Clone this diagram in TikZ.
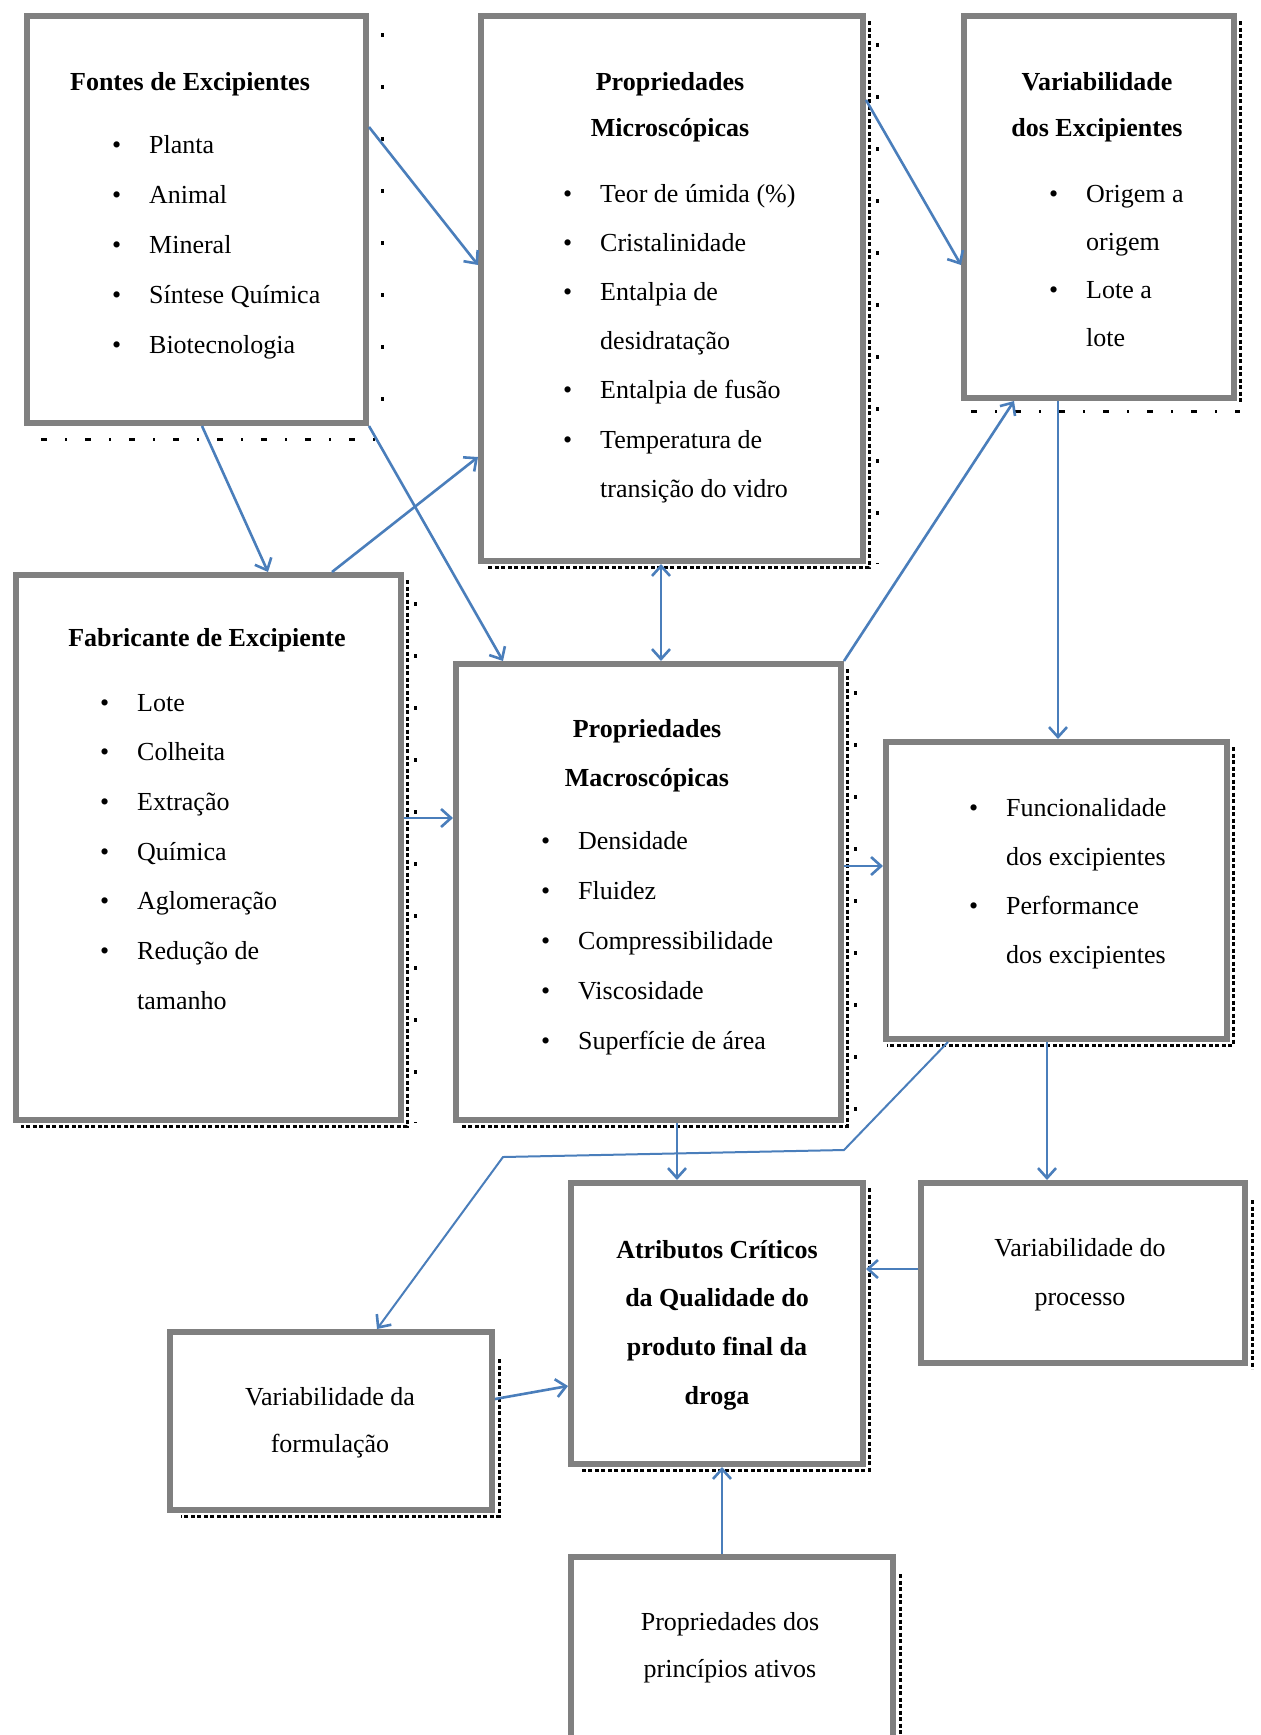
\documentclass[tikz,border=0pt]{standalone}
\usepackage{fontspec}
\setmainfont{Liberation Serif}
\usetikzlibrary{arrows.meta}
\definecolor{bx}{HTML}{808080}
\definecolor{ar}{HTML}{4A7EBB}
\newcommand\fs[1]{\fontsize{26}{#1}\selectfont}
\newcommand\bu[1]{\makebox[37pt][l]{\textbullet}#1}
\newcommand\co[1]{\hspace*{37pt}#1}
\newcommand\bx[5]{\node[box, minimum width={#4-#2-6}, minimum height={#5-#3-6}] (#1) at ({(#2+#4)/2},{(#3+#5)/2}) {};}
\tikzset{
 box/.style={draw=bx, line width=6pt, fill=white, inner sep=0pt, outer sep=3pt},
 con/.style={draw=ar, line width=2.6pt, -{Straight Barb[length=10pt,width=18pt,line width=2.6pt]}},
 shd/.style={draw=black, line width=3pt, dash pattern=on 4pt off 2.5pt},
 shs/.style={draw=black, line width=3pt, dash pattern=on 4pt off 48pt},
 shb/.style={draw=black, line width=3pt, dash pattern=on 6pt off 18pt on 2pt off 18pt},
 txt/.style={inner sep=0pt, anchor=base west},
 ttl/.style={inner sep=0pt, anchor=base},
}
\begin{document}
\begin{tikzpicture}[x=1pt,y=-1pt]
\useasboundingbox[fill=white] (0,0) rectangle (1261,1735);
% boxes
\bx{F}{24}{13}{369}{426}
\bx{Mi}{478}{13}{866}{564}
\bx{Va}{961}{13}{1237}{401}
\bx{Fa}{13}{572}{404}{1123}
\bx{Ma}{453}{661}{844}{1123}
\bx{Fu}{883}{739}{1230}{1042}
\bx{AC}{568}{1180}{866}{1467}
\bx{VP}{918}{1180}{1248}{1366}
\bx{VF}{167}{1329}{495}{1513}
\bx{PP}{568}{1554}{896}{1775}
% shadows
\draw[shs] ([shift={(13pt,-20pt)}]F.north east) -- ([shift={(13pt,0pt)}]F.south east);
\draw[shb] ([shift={(17pt,-13pt)}]F.south west) -- ([shift={(13pt,-13pt)}]F.south east);
\draw[shd] ([shift={(3pt,-8pt)}]Mi.north east) -- ([shift={(3pt,-3pt)}]Mi.south east) -- ([shift={(8pt,-3pt)}]Mi.south west);
\draw[shs] ([shift={(11pt,-30pt)}]Mi.north east) -- ([shift={(11pt,0pt)}]Mi.south east);
\draw[shd] ([shift={(3pt,-8pt)}]Va.north east) -- ([shift={(3pt,-3pt)}]Va.south east);
\draw[shb] ([shift={(10pt,-10pt)}]Va.south west) -- ([shift={(3pt,-10pt)}]Va.south east);
\draw[shd] ([shift={(3pt,-8pt)}]Fa.north east) -- ([shift={(3pt,-3pt)}]Fa.south east) -- ([shift={(8pt,-3pt)}]Fa.south west);
\draw[shs] ([shift={(11pt,-30pt)}]Fa.north east) -- ([shift={(11pt,0pt)}]Fa.south east);
\draw[shd] ([shift={(3pt,-8pt)}]Ma.north east) -- ([shift={(3pt,-3pt)}]Ma.south east) -- ([shift={(8pt,-3pt)}]Ma.south west);
\draw[shs] ([shift={(11pt,-30pt)}]Ma.north east) -- ([shift={(11pt,0pt)}]Ma.south east);
\draw[shd] ([shift={(3pt,-8pt)}]Fu.north east) -- ([shift={(3pt,-3pt)}]Fu.south east) -- ([shift={(4pt,-3pt)}]Fu.south west);
\draw[shd] ([shift={(3pt,-8pt)}]AC.north east) -- ([shift={(3pt,-3pt)}]AC.south east) -- ([shift={(14pt,-3pt)}]AC.south west);
\draw[shd] ([shift={(4pt,-20pt)}]VP.north east) -- ([shift={(4pt,-3pt)}]VP.south east);
\draw[shd] ([shift={(4pt,-30pt)}]VF.north east) -- ([shift={(4pt,-3pt)}]VF.south east) -- ([shift={(14pt,-3pt)}]VF.south west);
\draw[shd] ([shift={(4pt,-20pt)}]PP.north east) -- ([shift={(4pt,-3pt)}]PP.south east);
% texts
\node[ttl] (Ft) at (190,90) {\fs{46}\bfseries Fontes de Excipientes};
\node[txt] (Fl) at (112,153) {\fs{50}\begin{tabular}[t]{@{}l@{}}\bu{Planta}\\\bu{Animal}\\\bu{Mineral}\\\bu{Síntese Química}\\\bu{Biotecnologia}\end{tabular}};
\node[ttl] (Mit) at (670,90) {\fs{46}\bfseries\begin{tabular}[t]{@{}c@{}}Propriedades\\Microscópicas\end{tabular}};
\node[txt] (Mil) at (563,202) {\fs{49.2}\begin{tabular}[t]{@{}l@{}}\bu{Teor de úmida (\%)}\\\bu{Cristalinidade}\\\bu{Entalpia de}\\\co{desidratação}\\\bu{Entalpia de fusão}\\\bu{Temperatura de}\\\co{transição do vidro}\end{tabular}};
\node[ttl] (Vat) at (1097,90) {\fs{46}\bfseries\begin{tabular}[t]{@{}c@{}}Variabilidade\\dos Excipientes\end{tabular}};
\node[txt] (Val) at (1049,202) {\fs{48}\begin{tabular}[t]{@{}l@{}}\bu{Origem a}\\\co{origem}\\\bu{Lote a}\\\co{lote}\end{tabular}};
\node[ttl] (Fat) at (207,646) {\fs{46}\bfseries Fabricante de Excipiente};
\node[txt] (Fal) at (100,711) {\fs{49.7}\begin{tabular}[t]{@{}l@{}}\bu{Lote}\\\bu{Colheita}\\\bu{Extração}\\\bu{Química}\\\bu{Aglomeração}\\\bu{Redução de}\\\co{tamanho}\end{tabular}};
\node[ttl] (Mat) at (647,737) {\fs{49}\bfseries\begin{tabular}[t]{@{}c@{}}Propriedades\\Macroscópicas\end{tabular}};
\node[txt] (Mal) at (541,849) {\fs{50}\begin{tabular}[t]{@{}l@{}}\bu{Densidade}\\\bu{Fluidez}\\\bu{Compressibilidade}\\\bu{Viscosidade}\\\bu{Superfície de área}\end{tabular}};
\node[txt] (Ful) at (969,816) {\fs{49.3}\begin{tabular}[t]{@{}l@{}}\bu{Funcionalidade}\\\co{dos excipientes}\\\bu{Performance}\\\co{dos excipientes}\end{tabular}};
\node[ttl] (ACt) at (717,1258) {\fs{48.7}\bfseries\begin{tabular}[t]{@{}c@{}}Atributos Críticos\\da Qualidade do\\produto final da\\droga\end{tabular}};
\node[ttl] (VPt) at (1080,1256) {\fs{49}\begin{tabular}[t]{@{}c@{}}Variabilidade do\\processo\end{tabular}};
\node[ttl] (VFt) at (330,1405) {\fs{47}\begin{tabular}[t]{@{}c@{}}Variabilidade da\\formulação\end{tabular}};
\node[ttl] (PPt) at (730,1630) {\fs{47}\begin{tabular}[t]{@{}c@{}}Propriedades dos\\princípios ativos\end{tabular}};
% connectors
\draw[con] (F.east|-{(0,127)}) -- (Mi.west|-{(0,265)});
\draw[con] (F.south-|{(202,0)}) -- (Fa.north-|{(268,0)});
\draw[con] (F.south east) -- (Ma.north-|{(503,0)});
\draw[con] (Fa.north-|{(332,0)}) -- (Mi.west|-{(0,457)});
\draw[con,{Straight Barb[length=10pt,width=18pt,line width=2.6pt]}-{Straight Barb[length=10pt,width=18pt,line width=2.6pt]}] (Mi.south-|{(661,0)}) -- (Ma.north-|{(661,0)});
\draw[con] (Mi.east|-{(0,100)}) -- (Va.west|-{(0,265)});
\draw[con] (Ma.north east) -- (Va.south-|{(1014,0)});
\draw[con] (Va.south-|{(1058,0)}) -- (Fu.north-|{(1058,0)});
\draw[con] (Fa.east|-{(0,818)}) -- (Ma.west|-{(0,818)});
\draw[con] (Ma.east|-{(0,866)}) -- (Fu.west|-{(0,866)});
\draw[con,line width=2pt] (Fu.south-|{(948,0)}) -- (844,1150) -- (503,1157) -- (VF.north-|{(377,0)});
\draw[con] (Fu.south-|{(1047,0)}) -- (VP.north-|{(1047,0)});
\draw[con] (Ma.south-|{(677,0)}) -- (AC.north-|{(677,0)});
\draw[con] (VP.west|-{(0,1269)}) -- (AC.east|-{(0,1269)});
\draw[con] (VF.east|-{(0,1399)}) -- (AC.west|-{(0,1386)});
\draw[con] (PP.north-|{(722,0)}) -- (AC.south-|{(722,0)});
\end{tikzpicture}
\end{document}
